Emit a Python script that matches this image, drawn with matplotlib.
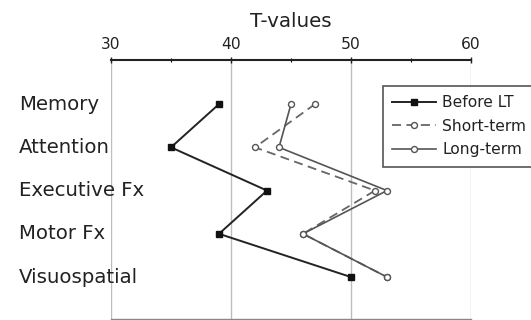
import matplotlib
matplotlib.use("Agg")
import matplotlib.pyplot as plt
from matplotlib.ticker import MultipleLocator
import matplotlib.transforms as mtransforms

domains = ["Memory", "Attention", "Executive Fx", "Motor Fx", "Visuospatial"]
before_lt = [39, 35, 43, 39, 50]
short_term = [47, 42, 52, 46, 53]
long_term = [45, 44, 53, 46, 53]
x_ticks = [30, 40, 50, 60]

W, H = 531, 320
fig = plt.figure(figsize=(W / 100, H / 100), dpi=100)
ax = fig.add_axes([111 / W, 1 - 319 / H, 360 / W, 259 / H])

ypos = list(range(len(domains)))

ax.plot(before_lt, ypos, color="#222222", lw=1.4, marker="s", ms=3.8,
        mfc="#111111", mec="#111111", label="Before LT", zorder=4)
ax.plot(short_term, ypos, color="#666666", lw=1.3, ls=(0, (5, 3)), marker="o",
        ms=4.3, mfc="white", mec="#555555", mew=1.0, label="Short-term", zorder=3)
ax.plot(long_term, ypos, color="#555555", lw=1.2, marker="o", ms=4.3,
        mfc="white", mec="#555555", mew=1.0, label="Long-term", zorder=3)

ax.set_xlim(30, 60)
ax.set_ylim(4.97, -1.02)
ax.set_xticks(x_ticks)
ax.xaxis.set_minor_locator(MultipleLocator(5))
ax.xaxis.tick_top()
ax.xaxis.set_label_position("top")
ax.set_xlabel("T-values", fontsize=14.3, labelpad=7, color="#222222")
ax.tick_params(axis="x", which="major", labelsize=11.2, direction="inout",
               length=4, width=1, pad=4, colors="#222222")
ax.tick_params(axis="x", which="minor", direction="inout", length=3, width=0.8)
ax.set_yticks([])

for x in x_ticks:
    ax.axvline(x, color="#bdbdbd", lw=1.0, zorder=0)

for side in ("left", "right"):
    ax.spines[side].set_visible(False)
ax.spines["top"].set_linewidth(1.5)
ax.spines["top"].set_color("#222222")
ax.spines["bottom"].set_linewidth(1.0)
ax.spines["bottom"].set_color("#888888")

trans = mtransforms.blended_transform_factory(fig.transFigure, ax.transData)
for y, name in zip(ypos, domains):
    ax.text(19 / W, y, name, transform=trans, ha="left", va="center",
            fontsize=14.2, color="#222222", clip_on=False)

leg = ax.legend(loc="upper left", bbox_to_anchor=(383 / W, 1 - 86 / H),
                bbox_transform=fig.transFigure, borderaxespad=0,
                fontsize=11.2, handlelength=2.8, handletextpad=0.4,
                labelspacing=0.55, borderpad=0.6, fancybox=False,
                framealpha=1, edgecolor="#555555")
leg.get_frame().set_linewidth(1.2)
for t in leg.get_texts():
    t.set_color("#222222")

fig.savefig("out.png", dpi=100)
